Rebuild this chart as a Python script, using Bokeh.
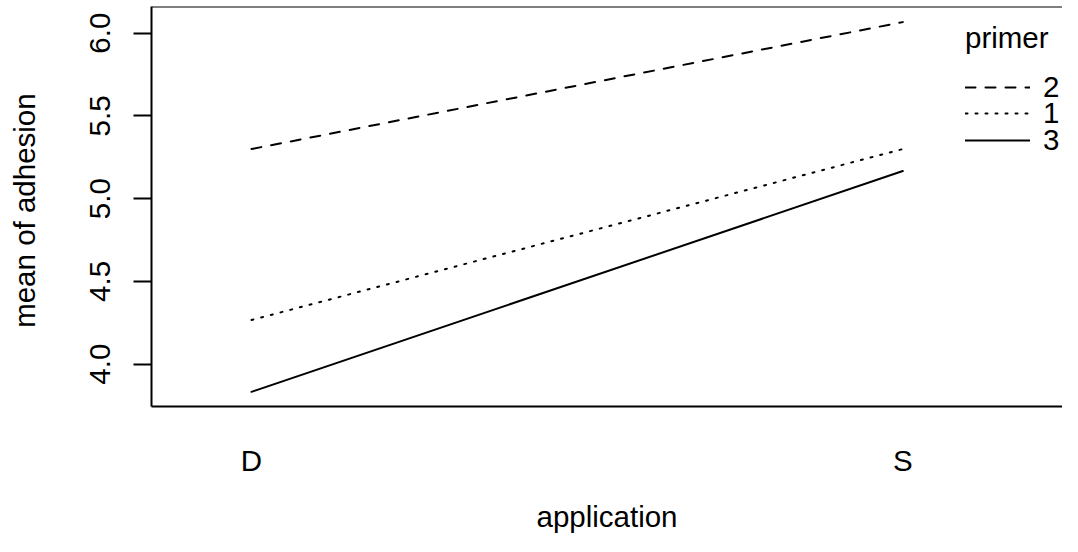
from bokeh.plotting import figure
from bokeh.models import Range1d, FixedTicker, Legend, LegendItem, Span
from bokeh.embed import file_html
from bokeh.resources import INLINE

# ---- data (interaction plot: mean adhesion by application x primer) ----
applications = ["D", "S"]
primer_1 = [4.267, 5.300]
primer_2 = [5.300, 6.067]
primer_3 = [3.833, 5.167]
legend_order = ["2", "1", "3"]
legend_title = "primer"
y_ticks = [4.0, 4.5, 5.0, 5.5, 6.0]
y_tick_labels = ["4.0", "4.5", "5.0", "5.5", "6.0"]

x_pos = [i + 1 for i in range(len(applications))]

FONT = "Liberation Sans"
FS = "29.5px"

p = figure(width=1062, height=536, output_backend="svg", toolbar_location=None,
           x_range=Range1d(0.84646, 2.2452), y_range=Range1d(3.74441, 6.16133),
           min_border_left=151, min_border_right=0, min_border_top=6, min_border_bottom=130,
           x_axis_label="application", y_axis_label="mean of  adhesion")
p.outline_line_color = None
p.grid.visible = False
p.background_fill_color = "white"
p.border_fill_color = "white"

# y axis
yax = p.yaxis[0]
yax.ticker = FixedTicker(ticks=y_ticks)
yax.major_label_overrides = {t: l for t, l in zip(y_ticks, y_tick_labels)}
yax.major_label_orientation = "vertical"
yax.major_tick_out = 18
yax.major_tick_in = 0
yax.minor_tick_out = 0
yax.minor_tick_in = 0
yax.major_tick_line_width = 2
yax.major_tick_line_color = "black"
yax.axis_line_width = 2
yax.axis_line_color = "black"
yax.major_label_text_font = FONT
yax.major_label_text_font_size = FS
yax.major_label_text_color = "black"
yax.major_label_standoff = 23
yax.axis_label_text_font = FONT
yax.axis_label_text_font_size = FS
yax.axis_label_text_font_style = "normal"
yax.axis_label_text_color = "black"
yax.axis_label_standoff = 47

# x axis
xax = p.xaxis[0]
xax.ticker = FixedTicker(ticks=x_pos)
xax.major_label_overrides = {x: a for x, a in zip(x_pos, applications)}
xax.major_tick_out = 0
xax.major_tick_in = 0
xax.minor_tick_out = 0
xax.minor_tick_in = 0
xax.major_tick_line_color = None
xax.axis_line_width = 2
xax.axis_line_color = "black"
xax.major_label_text_font = FONT
xax.major_label_text_font_size = FS
xax.major_label_text_color = "black"
xax.major_label_standoff = 37
xax.axis_label_text_font = FONT
xax.axis_label_text_font_size = FS
xax.axis_label_text_font_style = "normal"
xax.axis_label_text_color = "black"
xax.axis_label_standoff = 20

# top border of the box
p.add_layout(Span(location=p.y_range.end, dimension="width", line_color="black", line_width=2))

r2 = p.line(x_pos, primer_2, line_color="black", line_width=2, line_dash="10 10", line_cap="round")
r1 = p.line(x_pos, primer_1, line_color="black", line_width=2, line_dash="2 8", line_cap="round")
r3 = p.line(x_pos, primer_3, line_color="black", line_width=2, line_cap="round")
renderers = {"1": r1, "2": r2, "3": r3}

# one legend block per row so the row pitch can match the reference
row_bottoms = [302, 276, 249]
for i, (key, yb) in enumerate(zip(legend_order, row_bottoms)):
    lg = Legend(items=[LegendItem(label=key, renderers=[renderers[key]])],
                location=(814, yb), orientation="vertical",
                glyph_width=65, glyph_height=20, label_standoff=13, spacing=0,
                padding=0, margin=0, border_line_color=None, background_fill_alpha=0)
    if i == 0:
        lg.title = legend_title
        lg.title_standoff = 15
        lg.title_text_font = FONT
        lg.title_text_font_size = FS
        lg.title_text_font_style = "normal"
        lg.title_text_color = "black"
    lg.label_text_font = FONT
    lg.label_text_font_size = FS
    lg.label_text_color = "black"
    p.add_layout(lg)

open("out.html", "w").write(file_html(p, INLINE))
